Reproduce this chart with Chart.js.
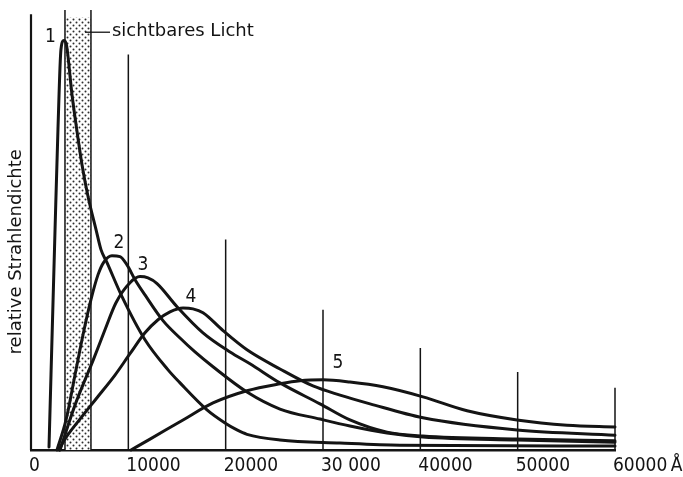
<!DOCTYPE html>
<html>
<head>
<meta charset="utf-8">
<script src="https://cdn.jsdelivr.net/npm/chart.js@4.4.0/dist/chart.umd.min.js"></script>
<style>
  html, body { margin: 0; padding: 0; background: #fff; }
  canvas { display: block; }
</style>
</head>
<body>
<canvas id="chart" width="683" height="477"></canvas>
<script>
// wavelength in Angstrom, radiance in relative units (baseline = 0)
const curve1X = [1850, 2470, 2770, 3080, 3390, 3650, 4210, 4730, 5240, 5860, 6680, 7190, 7810, 9350, 11710, 14080, 15310, 18080, 19930, 21160, 22190, 25580, 31750, 37910, 60000];
const curve1Y = [0.7, 50.6, 73.6, 92.0, 94.0, 92.9, 81.6, 73.1, 65.5, 58.2, 50.6, 46.0, 43.0, 35.2, 25.3, 18.4, 15.4, 9.2, 6.2, 4.6, 3.6, 2.3, 1.6, 1.1, 0.9];

const curve2X = [2670, 3600, 4520, 5340, 6160, 6880, 7500, 8320, 9140, 9860, 10690, 11710, 13560, 15310, 16850, 18700, 22190, 25580, 29690, 32770, 36580, 40270, 49930, 60000];
const curve2Y = [0, 6.9, 17.2, 26.4, 34.5, 40.2, 43.2, 44.6, 44.4, 42.5, 39.1, 35.6, 29.7, 25.7, 22.5, 19.1, 13.3, 9.4, 7.1, 5.5, 3.9, 3.0, 2.3, 1.8];

const curve3X = [2980, 4520, 6470, 7600, 8730, 10170, 11200, 12020, 12950, 15000, 17670, 20450, 22500, 25580, 29690, 32770, 36580, 40270, 49930, 60000];
const curve3Y = [0, 10.3, 21.1, 27.6, 33.8, 38.4, 39.8, 39.5, 38.2, 32.9, 26.9, 22.5, 19.8, 15.4, 10.6, 6.9, 4.1, 3.2, 2.5, 2.1];

const curve4X = [2880, 3290, 5030, 6780, 8630, 10170, 11710, 13050, 14280, 15620, 16640, 17670, 19730, 22190, 25580, 28970, 31750, 34830, 40270, 49930, 60000];
const curve4Y = [0, 1.8, 7.1, 12.0, 17.2, 22.1, 26.9, 29.9, 31.7, 32.6, 32.4, 31.5, 27.4, 23.0, 18.6, 14.7, 12.6, 10.6, 7.4, 4.6, 3.4];

const curve5X = [10270, 12230, 15620, 18700, 22190, 25580, 27640, 30000, 32770, 36160, 40270, 44800, 49930, 55070, 60000];
const curve5Y = [0, 2.5, 6.9, 10.8, 13.6, 15.2, 15.9, 16.1, 15.6, 14.5, 12.2, 9.0, 6.9, 5.7, 5.3];

// vertical marker lines standing on the axis
const tickLineX = [10000, 20000, 30000, 40000, 50000, 60000];
const tickLineTop = [90.8, 48.3, 32.2, 23.4, 17.9, 14.3];

// visible light band
const bandX = [3490, 6160];
const bandTop = 99.3;
const bandEdgeTop = 101;
const bandLabel = 'sichtbares Licht';
const leaderX = [5550, 8120];
const leaderY = 95.9;
const bandLabelX = 8320;

const curveNames = ['1', '2', '3', '4', '5'];
const curveNameX = [2000, 9040, 11510, 16440, 31540];
const curveNameY = [94.8, 47.5, 42.5, 35.2, 19.9];

const xTickLabels = ['0', '10000', '20000', '30 000', '40000', '50000', '60000\u2009Å'];
const yTitle = 'relative Strahlendichte';
const yTitleAt = 45.5;
const yAxisTop = 100;
const yMax = 101;

const INK = '#141414';
const NARROW = "'Liberation Sans Narrow', 'DejaVu Sans Condensed', 'Liberation Sans', sans-serif";

function toPoints(xs, ys) {
  return xs.map((x, i) => ({ x: x, y: ys[i] }));
}

function verticals(xs, tops) {
  const pts = [];
  xs.forEach((x, i) => {
    pts.push({ x: x, y: 0 }, { x: x, y: tops[i] }, { x: x, y: null });
  });
  return pts;
}

function dotPattern() {
  const c = document.createElement('canvas');
  c.width = 6; c.height = 6;
  const g = c.getContext('2d');
  g.fillStyle = '#fff';
  g.fillRect(0, 0, 6, 6);
  g.fillStyle = '#2e2e2e';
  [[1.5, 1.5], [4.5, 4.5]].forEach(([px, py]) => {
    g.beginPath();
    g.arc(px, py, 1.0, 0, Math.PI * 2);
    g.fill();
  });
  return g.createPattern(c, 'repeat');
}

function curve(xs, ys) {
  return {
    data: toPoints(xs, ys),
    borderColor: INK,
    borderWidth: 3,
    cubicInterpolationMode: 'monotone',
    borderCapStyle: 'round',
    borderJoinStyle: 'round',
    pointRadius: 0,
    fill: false,
    order: 0,
  };
}

function rule(data, width) {
  return {
    data: data,
    borderColor: INK,
    borderWidth: width,
    pointRadius: 0,
    spanGaps: false,
    order: 1,
  };
}

const annotations = {
  id: 'annotations',
  afterDatasetsDraw(chart) {
    const { ctx, scales: { x, y } } = chart;
    ctx.save();
    ctx.fillStyle = INK;
    ctx.textBaseline = 'middle';

    ctx.textAlign = 'center';
    ctx.font = '19px ' + NARROW;
    curveNames.forEach((t, i) => {
      ctx.fillText(t, x.getPixelForValue(curveNameX[i]), y.getPixelForValue(curveNameY[i]));
    });

    ctx.textAlign = 'left';
    ctx.font = "18px 'DejaVu Sans', sans-serif";
    ctx.fillText(bandLabel, x.getPixelForValue(bandLabelX), y.getPixelForValue(leaderY) - 1);

    ctx.translate(x.left - 15, y.getPixelForValue(yTitleAt));
    ctx.rotate(-Math.PI / 2);
    ctx.textAlign = 'center';
    ctx.fillText(yTitle, 0, 0);
    ctx.restore();
  }
};

new Chart(document.getElementById('chart'), {
  type: 'line',
  data: {
    datasets: [
      curve(curve1X, curve1Y),
      curve(curve2X, curve2Y),
      curve(curve3X, curve3Y),
      curve(curve4X, curve4Y),
      curve(curve5X, curve5Y),
      rule(verticals(bandX, [bandEdgeTop, bandEdgeTop]), 1.5),
      rule(verticals(tickLineX, tickLineTop), 1.5),
      rule(verticals([0], [yAxisTop]), 2.2),
      rule(toPoints(leaderX, [leaderY, leaderY]), 1.3),
      {
        data: toPoints(bandX, [bandTop, bandTop]),
        backgroundColor: dotPattern(),
        borderWidth: 0,
        pointRadius: 0,
        fill: 'origin',
        order: 2,
      },
    ]
  },
  options: {
    responsive: false,
    animation: false,
    clip: false,
    layout: { padding: { left: 31, right: 68, top: 10, bottom: 0 } },
    plugins: { legend: { display: false }, tooltip: { enabled: false } },
    scales: {
      x: {
        type: 'linear',
        min: 0,
        max: 60000,
        grid: { display: false, drawTicks: false },
        border: { display: true, color: INK, width: 2.5 },
        ticks: {
          stepSize: 10000,
          align: 'start',
          padding: 5,
          labelOffset: -2,
          color: INK,
          maxRotation: 0,
          autoSkip: false,
          font: { family: NARROW, size: 19 },
          callback: (v, i) => xTickLabels[i],
        },
        afterFit: (s) => {
          s.height = 27;
          s.paddingLeft = 0;
          s.paddingRight = 0;
        },
      },
      y: {
        display: false,
        min: 0,
        max: yMax,
      }
    }
  },
  plugins: [annotations]
});
</script>
</body>
</html>
